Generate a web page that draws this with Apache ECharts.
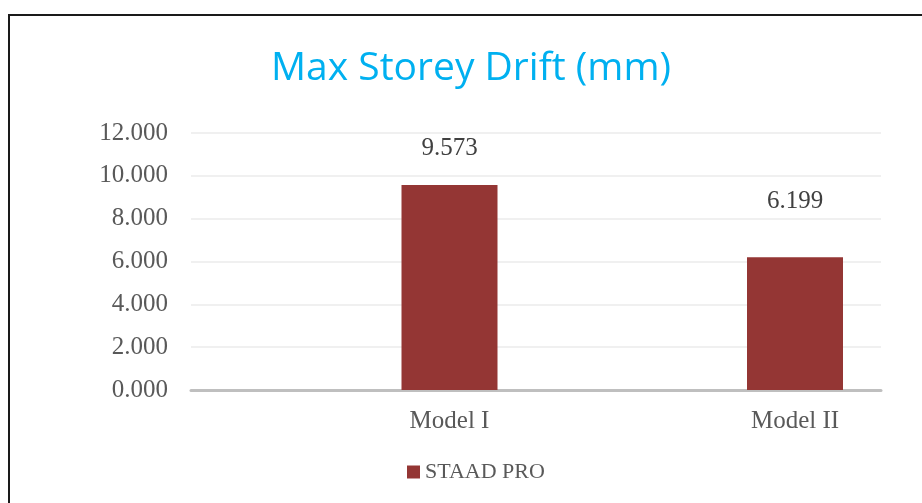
<!DOCTYPE html>
<html>
<head>
<meta charset="utf-8">
<script src="https://cdn.jsdelivr.net/npm/echarts@6/dist/echarts.min.js"></script>
<style>
  html, body { margin: 0; padding: 0; background: #fff; }
  #chart { width: 922px; height: 503px; }
</style>
</head>
<body>
<div id="chart"></div>
<script>
// chart data
const categories = ['Model I', 'Model II'];
const staadPro = [9.573, 6.199];
const seriesName = 'STAAD PRO';
const yTicks = [0, 2, 4, 6, 8, 10, 12];

// label gap above each bar (labels were moved by hand in the original)
const labelGap = [24, 43];

const textGray = '#595959';
const serif = '"Liberation Serif", "DejaVu Serif", serif';

const chart = echarts.init(document.getElementById('chart'));

const option = {
  animation: false,
  backgroundColor: '#fff',
  title: {
    text: 'Max Storey Drift (mm)',
    left: 466,
    textAlign: 'center',
    top: 44,
    textStyle: {
      color: '#00b0f0',
      fontFamily: '"Open Sans", Lato, sans-serif',
      fontWeight: 'normal',
      fontSize: 39
    }
  },
  legend: {
    data: [seriesName],
    left: 402,
    top: 456,
    icon: 'rect',
    itemWidth: 13,
    itemHeight: 13,
    textStyle: { color: textGray, fontFamily: serif, fontSize: 22 }
  },
  graphic: [{
    // outer chart border (cut off on the right and bottom)
    type: 'rect',
    shape: { x: 9, y: 15, width: 940, height: 520 },
    style: { fill: 'none', stroke: '#1a1a1a', lineWidth: 2 },
    silent: true
  }],
  grid: [
    // grid for gridlines and the axis line
    { left: 191, right: 41, top: 133, bottom: 113 },
    // grid for the bars: the two categories sit on its edges
    { left: 449.5, right: 127, top: 133, bottom: 113 }
  ],
  xAxis: [
    {
      type: 'value', gridIndex: 0, min: 0, max: 1,
      axisLine: { show: true, lineStyle: { color: '#bfbfbf', width: 3 } },
      axisTick: { show: false },
      axisLabel: { show: false },
      splitLine: { show: false }
    },
    {
      type: 'category', gridIndex: 1, data: categories,
      boundaryGap: false,
      axisLine: { show: false },
      axisTick: { show: false },
      axisLabel: { color: textGray, fontFamily: serif, fontSize: 25, margin: 19 },
      splitLine: { show: false }
    }
  ],
  yAxis: [
    {
      type: 'value', gridIndex: 0,
      min: yTicks[0], max: yTicks[yTicks.length - 1], interval: yTicks[1] - yTicks[0],
      axisLine: { show: false },
      axisTick: { show: false },
      axisLabel: {
        color: textGray, fontFamily: serif, fontSize: 25, margin: 23,
        formatter: v => v.toFixed(3)
      },
      splitLine: { lineStyle: { color: '#ebebeb', width: 1.5 } }
    },
    {
      type: 'value', gridIndex: 1,
      min: yTicks[0], max: yTicks[yTicks.length - 1],
      show: false
    }
  ],
  series: [{
    name: seriesName,
    type: 'bar',
    xAxisIndex: 1,
    yAxisIndex: 1,
    barWidth: 96,
    itemStyle: { color: '#943634' },
    label: {
      show: true,
      position: 'top',
      color: '#404040',
      fontFamily: serif,
      fontSize: 25,
      formatter: p => p.value.toFixed(3)
    },
    data: staadPro.map((v, i) => ({ value: v, label: { distance: labelGap[i] } }))
  }]
};

chart.setOption(option);
</script>
</body>
</html>
